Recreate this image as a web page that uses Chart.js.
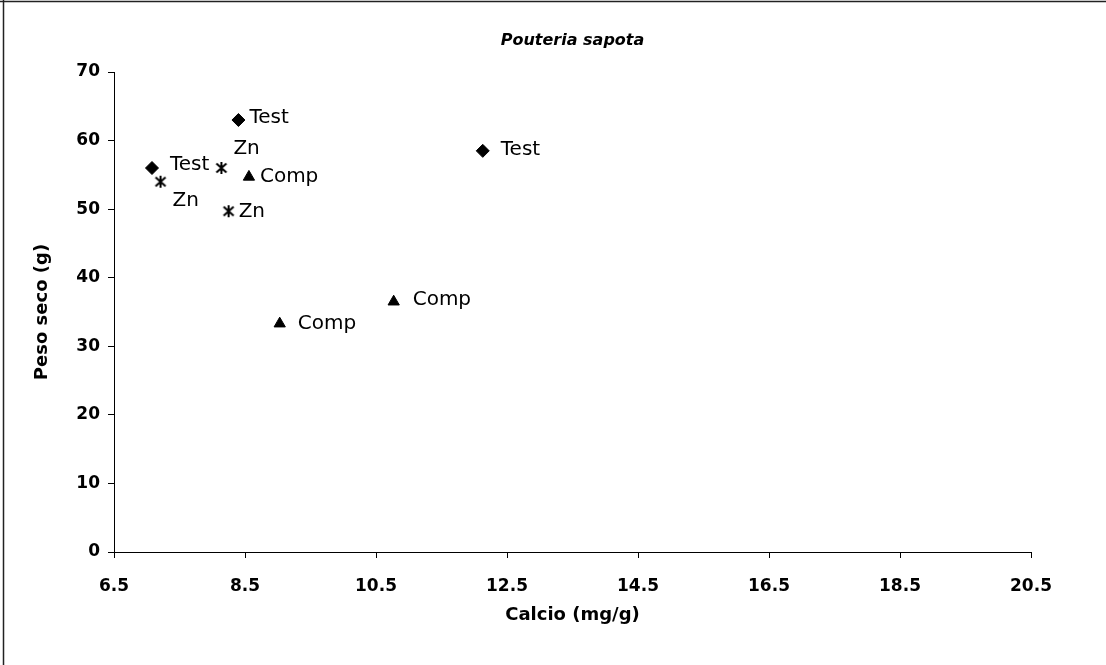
<!DOCTYPE html>
<html>
<head>
<meta charset="utf-8">
<script src="https://cdn.jsdelivr.net/npm/chart.js@4.4.1/dist/chart.umd.min.js"></script>
<style>
  html, body { margin: 0; padding: 0; background: #fff; }
  #wrap { width: 1106px; height: 665px; position: relative; }
</style>
</head>
<body>
<div id="wrap"><canvas id="mainChart" width="1106" height="665"></canvas></div>
<script>
// Dados
const chartTitle = 'Pouteria sapota';
const xTitle = 'Calcio (mg/g)';
const yTitle = 'Peso seco (g)';

const seriesNames = ['Test', 'Comp', 'Zn'];

const testCalcio = [8.4, 7.08, 12.13];
const testPeso = [63, 56, 58.5];

const compCalcio = [8.56, 10.77, 9.03];
const compPeso = [54.7, 36.5, 33.3];

const znCalcio = [7.21, 8.14, 8.25];
const znPeso = [54, 56, 49.7];

const xTicks = [6.5, 8.5, 10.5, 12.5, 14.5, 16.5, 18.5, 20.5];
const yTicks = [0, 10, 20, 30, 40, 50, 60, 70];

const FONT = "'DejaVu Sans', sans-serif";

function toPoints(xs, ys) {
  return xs.map((x, i) => ({ x: x, y: ys[i] }));
}

// asterisco (marcador do Zn)
function makeAsterisk() {
  const c = document.createElement('canvas');
  c.width = 14; c.height = 14;
  const g = c.getContext('2d');
  g.strokeStyle = '#000';
  g.lineWidth = 2;
  g.beginPath();
  g.moveTo(7, 1); g.lineTo(7, 13);
  g.moveTo(2, 2.5); g.lineTo(12, 11.5);
  g.moveTo(12, 2.5); g.lineTo(2, 11.5);
  g.stroke();
  return c;
}

// deslocamento dos rótulos de cada ponto (dx, dy em px)
const labelOffsets = [
  [[11, -2], [18, -3], [18, -1]],
  [[11, 0], [19, -2], [18, 0]],
  [[12, 19], [12, -19], [10, 1]]
];

const pointLabels = {
  id: 'pointLabels',
  afterDatasetsDraw(chart) {
    const ctx = chart.ctx;
    ctx.save();
    ctx.font = '20px ' + FONT;
    ctx.fillStyle = '#000';
    ctx.textBaseline = 'middle';
    ctx.textAlign = 'left';
    chart.data.datasets.forEach((ds, di) => {
      chart.getDatasetMeta(di).data.forEach((pt, i) => {
        const off = labelOffsets[di][i];
        ctx.fillText(ds.label, pt.x + off[0], pt.y + off[1]);
      });
    });
    ctx.restore();
  }
};

const frameAndTitle = {
  id: 'frameAndTitle',
  afterDraw(chart) {
    const ctx = chart.ctx;
    const area = chart.chartArea;
    ctx.save();
    ctx.strokeStyle = '#222';
    ctx.lineWidth = 1.5;
    ctx.beginPath();
    ctx.moveTo(0, 1.5); ctx.lineTo(chart.width, 1.5);
    ctx.moveTo(3.5, 0); ctx.lineTo(3.5, chart.height);
    ctx.stroke();
    ctx.font = 'italic bold 16px ' + FONT;
    ctx.fillStyle = '#000';
    ctx.textAlign = 'center';
    ctx.textBaseline = 'middle';
    ctx.fillText(chartTitle, (area.left + area.right) / 2, 41);
    ctx.restore();
  }
};

const chart = new Chart(document.getElementById('mainChart'), {
  type: 'scatter',
  data: {
    datasets: [{
      label: seriesNames[0],
      data: toPoints(testCalcio, testPeso),
      pointStyle: 'rectRot',
      pointRadius: 6.5,
      backgroundColor: '#000',
      borderColor: '#000'
    }, {
      label: seriesNames[1],
      data: toPoints(compCalcio, compPeso),
      pointStyle: 'triangle',
      pointRadius: 6.5,
      backgroundColor: '#000',
      borderColor: '#000'
    }, {
      label: seriesNames[2],
      data: toPoints(znCalcio, znPeso),
      pointStyle: makeAsterisk(),
      pointRadius: 7,
      backgroundColor: '#000',
      borderColor: '#000'
    }]
  },
  options: {
    responsive: false,
    animation: false,
    devicePixelRatio: 1,
    layout: { padding: { top: 72, right: 75, left: 0, bottom: 0 } },
    plugins: {
      legend: { display: false },
      tooltip: { enabled: false }
    },
    scales: {
      x: {
        type: 'linear',
        min: xTicks[0],
        max: xTicks[xTicks.length - 1],
        afterBuildTicks(scale) { scale.ticks = xTicks.map(v => ({ value: v })); },
        afterFit(scale) { scale.height = 113; },
        ticks: {
          color: '#000',
          font: { family: FONT, size: 17, weight: 'bold' },
          padding: 18,
          maxRotation: 0,
          autoSkip: false,
          callback: v => Number(v).toFixed(1)
        },
        grid: { drawOnChartArea: false, tickLength: 6, color: '#000', tickColor: '#000' },
        border: { display: true, color: '#000', width: 1 },
        title: {
          display: true,
          text: xTitle,
          color: '#000',
          font: { family: FONT, size: 18, weight: 'bold' },
          padding: { top: 0, bottom: 39 }
        }
      },
      y: {
        min: yTicks[0],
        max: yTicks[yTicks.length - 1],
        afterBuildTicks(scale) { scale.ticks = yTicks.map(v => ({ value: v })); },
        afterFit(scale) { scale.width = 114; },
        ticks: {
          color: '#000',
          font: { family: FONT, size: 17, weight: 'bold' },
          padding: 8,
          autoSkip: false
        },
        grid: { drawOnChartArea: false, tickLength: 6, color: '#000', tickColor: '#000' },
        border: { display: true, color: '#000', width: 1 },
        title: {
          display: true,
          text: yTitle,
          color: '#000',
          font: { family: FONT, size: 18, weight: 'bold' },
          padding: { top: 32, bottom: 0 }
        }
      }
    }
  },
  plugins: [pointLabels, frameAndTitle]
});
</script>
</body>
</html>
